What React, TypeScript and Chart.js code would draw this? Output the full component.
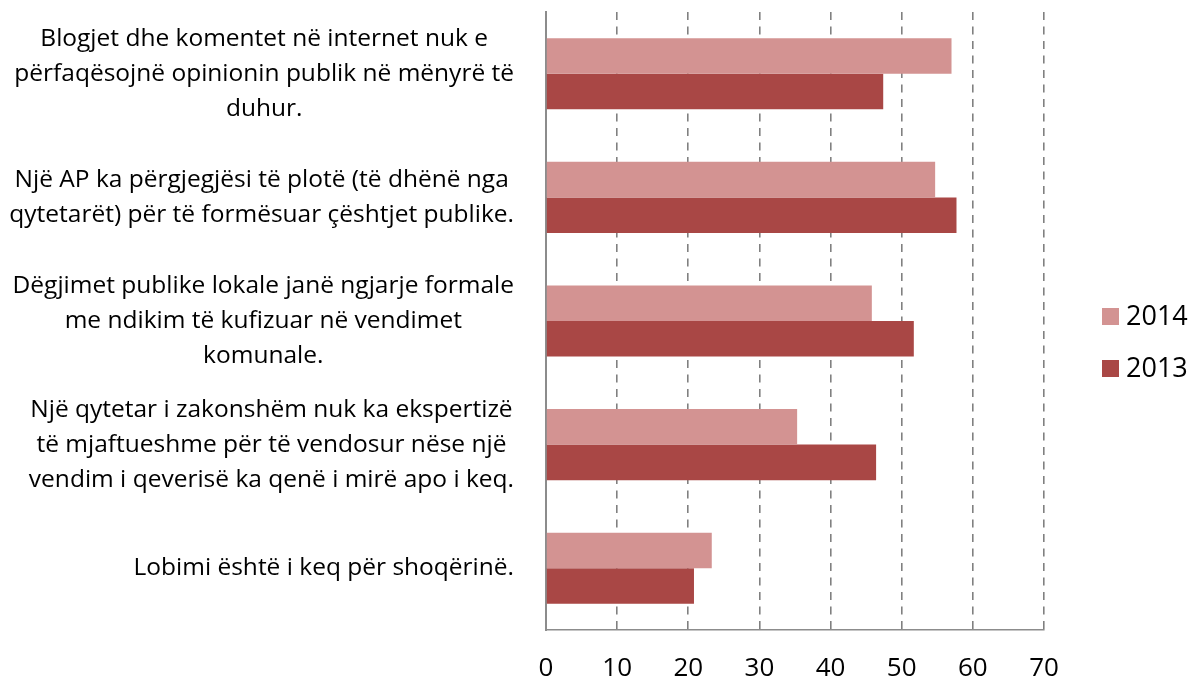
import React, { useEffect, useRef } from "react";
import { Chart, registerables } from "chart.js";

Chart.register(...registerables);

const categories: string[][] = [
  ["Blogjet dhe komentet në internet nuk e", "përfaqësojnë opinionin publik në mënyrë të", "duhur."],
  ["Një AP ka përgjegjësi të plotë (të dhënë nga", "qytetarët) për të formësuar çështjet publike."],
  ["Dëgjimet publike lokale janë ngjarje formale", "me ndikim të kufizuar në vendimet", "komunale."],
  ["Një qytetar i zakonshëm nuk ka ekspertizë", "të mjaftueshme për të vendosur nëse një", "vendim i qeverisë ka qenë i mirë apo i keq."],
  ["Lobimi është i keq për shoqërinë."],
];
const values2014: number[] = [57.0, 54.7, 45.8, 35.3, 23.3];
const values2013: number[] = [47.4, 57.7, 51.7, 46.4, 20.8];
const seriesNames: string[] = ["2014", "2013"];
const xTicks: number[] = [0, 10, 20, 30, 40, 50, 60, 70];

const FONT = "'Open Sans', 'Liberation Sans', Arial, sans-serif";

const catLabelPlugin = {
  id: "catLabels",
  afterDraw(chart: any) {
    const ctx = chart.ctx;
    const ys = chart.scales.y;
    const right = ys.right - 32;
    const lineH = 35;
    ctx.save();
    ctx.font = `24.5px ${FONT}`;
    ctx.fillStyle = "#000";
    ctx.textAlign = "center";
    ctx.textBaseline = "middle";
    (chart.data.labels as string[][]).forEach((lines, i) => {
      const cy = ys.getPixelForValue(i);
      const widest = Math.max(...lines.map((l) => ctx.measureText(l).width));
      const cx = right - widest / 2;
      lines.forEach((l, j) => {
        ctx.fillText(l, cx, cy + (j - (lines.length - 1) / 2) * lineH);
      });
    });
    ctx.restore();
  },
};

const legendPlugin = {
  id: "sideLegend",
  afterDraw(chart: any) {
    const ctx = chart.ctx;
    const x0 = chart.chartArea.right + 58;
    const spacing = 52;
    const n = chart.data.datasets.length;
    const cy0 = chart.height / 2 + 3 - ((n - 1) * spacing) / 2;
    ctx.save();
    ctx.font = `27px ${FONT}`;
    ctx.textAlign = "left";
    ctx.textBaseline = "middle";
    chart.data.datasets.forEach((ds: any, i: number) => {
      const cy = cy0 + i * spacing;
      ctx.fillStyle = ds.backgroundColor;
      ctx.fillRect(x0, cy - 8, 17, 17);
      ctx.fillStyle = "#000";
      ctx.fillText(ds.label, x0 + 24, cy + 1);
    });
    ctx.restore();
  },
};

export default function App() {
  const ref = useRef<HTMLCanvasElement | null>(null);
  useEffect(() => {
    if (!ref.current) return;
    const chart = new Chart(ref.current, {
      type: "bar",
      data: {
        labels: categories as any,
        datasets: [
          { label: seriesNames[0], data: values2014, backgroundColor: "#D39392", borderWidth: 0 },
          { label: seriesNames[1], data: values2013, backgroundColor: "#A94745", borderWidth: 0 },
        ],
      },
      options: {
        indexAxis: "y",
        animation: false,
        responsive: false,
        maintainAspectRatio: false,
        layout: { padding: { top: 12, left: 0, right: 151, bottom: 0 } },
        datasets: { bar: { categoryPercentage: 0.575, barPercentage: 1 } },
        plugins: {
          legend: { display: false },
          tooltip: { enabled: false },
        },
        scales: {
          x: {
            min: 0,
            max: 70,
            afterBuildTicks: (s: any) => {
              s.ticks = xTicks.map((v) => ({ value: v }));
            },
            afterFit: (s: any) => {
              s.height = 48;
            },
            grid: {
              color: "#808080",
              lineWidth: 1.6,
              drawTicks: false,
            },
            border: { display: true, color: "#8c8c8c", width: 1.5, dash: [8, 6.5] },
            ticks: { color: "#000", padding: 23, font: { family: FONT, size: 26 } },
          },
          y: {
            grid: { display: false, drawTicks: false },
            border: { display: true, color: "#8c8c8c", width: 2 },
            ticks: { display: false },
            afterFit: (s: any) => {
              s.width = 546;
            },
          },
        },
      },
      plugins: [catLabelPlugin, legendPlugin],
    });
    return () => chart.destroy();
  }, []);
  return (
    <div style={{ position: "fixed", left: 0, top: 0, width: 1195, height: 678, background: "#fff" }}>
      <canvas ref={ref} width={1195} height={678} style={{ width: 1195, height: 678 }} />
    </div>
  );
}
